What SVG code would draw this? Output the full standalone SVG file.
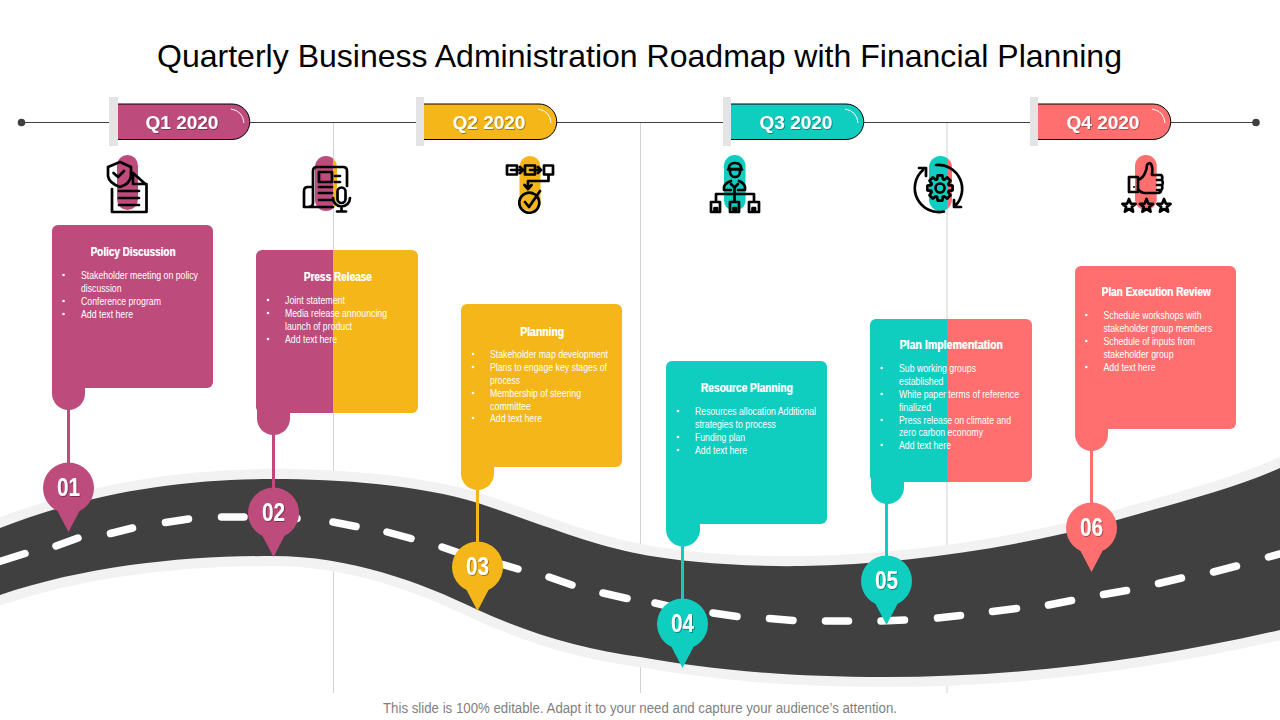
<svg xmlns="http://www.w3.org/2000/svg" xmlns:xlink="http://www.w3.org/1999/xlink" width="1280" height="720" viewBox="0 0 1280 720">
<style>
text{font-family:"Liberation Sans",Arial,sans-serif}
.pink{fill:#BD4B7C}.yel{fill:#F4B619}.teal{fill:#0FCDBF}.cor{fill:#FF6F6F}
.title{font-size:32px;fill:#000}
.foot{font-size:14px;fill:#7F7F7F}
.q{font-size:19px;font-weight:700;fill:#fff;text-anchor:middle}
.num{font-size:25px;font-weight:700;fill:#fff;text-anchor:middle}
.ct{font-size:13.300px;font-weight:700;fill:#fff;text-anchor:middle}
.cb{font-size:11.500px;fill:#fff}
.bar{fill:#E4E4E4}
.pill{stroke:none}
.pl{fill:none;stroke:#000;stroke-width:1}
.hl{fill:none;stroke:#fff;stroke-width:1}
.ic{fill:none;stroke:#000;stroke-width:2.700;stroke-linejoin:round;stroke-linecap:round}
.stem{stroke-width:3;fill:none}
.vl{stroke:#D2D2D2;stroke-width:1}
</style>
<defs>
<filter id="sh" x="-20%" y="-20%" width="140%" height="150%"><feDropShadow dx="0.8" dy="0.8" stdDeviation="0.6" flood-color="#000" flood-opacity="0.45"/></filter>
<filter id="sh2" x="-10%" y="-20%" width="120%" height="140%"><feDropShadow dx="0.5" dy="0" stdDeviation="0.2" flood-color="#fff" flood-opacity="0.7"/></filter>
<g id="pin"><ellipse cx="0" cy="0" rx="25.500" ry="25.500"/><path d="M-12 21L0 44L12 21Z"/></g>
<path id="star" d="M0-7L1.800-2.400L6.600-2.100L2.800 0.900L4.100 5.700L0 3L-4.100 5.700L-2.800 0.900L-6.600-2.100L-1.800-2.400Z"/>
<path id="tooth" d="M-2.900-8.900L-2.300-12.600H2.300L2.900-8.900L4.200-8.300"/>
<linearGradient id="g2" gradientUnits="userSpaceOnUse" x1="256" x2="418" y1="0" y2="0"><stop offset="0.4753" stop-color="#BD4B7C"/><stop offset="0.4753" stop-color="#F4B619"/></linearGradient>
<linearGradient id="g5" gradientUnits="userSpaceOnUse" x1="870" x2="1032" y1="0" y2="0"><stop offset="0.475" stop-color="#0FCDBF"/><stop offset="0.475" stop-color="#FF6F6F"/></linearGradient>
<linearGradient id="gi2" gradientUnits="userSpaceOnUse" x1="315" x2="337" y1="0" y2="0"><stop offset="0.82" stop-color="#BD4B7C"/><stop offset="0.82" stop-color="#F4B619"/></linearGradient>
<linearGradient id="gi5" gradientUnits="userSpaceOnUse" x1="929" x2="952" y1="0" y2="0"><stop offset="0.78" stop-color="#0FCDBF"/><stop offset="0.78" stop-color="#FF6F6F"/></linearGradient>
</defs>
<rect width="1280" height="720" fill="#fff"/>
<text class="title" x="157" y="67" textLength="965" lengthAdjust="spacingAndGlyphs">Quarterly Business Administration Roadmap with Financial Planning</text>
<g id="guides">
<line class="vl" x1="333.500" y1="123" x2="333.500" y2="693"/>
<line class="vl" x1="640.500" y1="123" x2="640.500" y2="693"/>
<line class="vl" x1="947" y1="123" x2="947" y2="693"/>
</g>
<g id="road">
<path d="M0 528C95 491 185 479 273 479C340 479 420 485 478 503C530 520 590 545 640 554C680 562 745 567 803 566C900 564 1010 550 1117 520C1175 503 1230 490 1280 468V630C1150 660 1020 677 885 677C780 677 700 668 640 657C585 650 530 634 478 610C420 582 350 556 273 556C185 556 90 565 0 595Z" fill="#404040" stroke="#F2F2F2" stroke-width="20" paint-order="stroke"/>
<path d="M-5 563L25 553.500M56 546L78 538M110.500 533.500L132.500 528M165.500 522.500L188.500 519M221.500 517L244 517M272 516L297 518.500M333 522L356 526.500M387 532L411 538.500M442 547L465 555M490 561L518 569M549 577L572 585M603 593L627 598.500M655 603L685 610M713 613L737 616.500M769.500 618.500L793 620.500M825.500 621L848.500 621M881 621L904.500 620M937.500 618L960.500 615.500M992.500 611.500L1016.500 608.500M1048.500 605L1071.500 600.500M1103.500 594.500L1126.500 590.500M1158.500 583.500L1181.500 578M1213.500 572L1236.500 566M1268.500 557L1290 551" fill="none" stroke="#fff" stroke-width="7.500" stroke-linecap="round"/>
</g>
<g id="timeline">
<line x1="21.500" y1="122.500" x2="1256" y2="122.500" stroke="#404040" stroke-width="1"/>
<circle cx="21.500" cy="122.500" r="3.800" fill="#404040"/>
<circle cx="1256" cy="122.500" r="3.800" fill="#404040"/>
</g>
<g id="q1"><path class="pill pink" d="M118 104H232A17.500 17.500 0 0 1 232 139.500H118Z"/><path class="pl" d="M118 104H232A17.500 17.500 0 0 1 232 139.500H118"/><rect class="bar" x="109" y="97" width="9" height="49"/><path class="hl" d="M231 109Q243 111 244 123"/><text class="q" x="182" y="129" filter="url(#sh)">Q1 2020</text></g>
<g id="q2"><path class="pill yel" d="M424 104H539A17.500 17.500 0 0 1 539 139.500H424Z"/><path class="pl" d="M424 104H539A17.500 17.500 0 0 1 539 139.500H424"/><rect class="bar" x="416" y="97" width="8" height="49"/><path class="hl" d="M538 109Q550 111 551 123"/><text class="q" x="489" y="129" filter="url(#sh)">Q2 2020</text></g>
<g id="q3"><path class="pill teal" d="M731 104H846A17.500 17.500 0 0 1 846 139.500H731Z"/><path class="pl" d="M731 104H846A17.500 17.500 0 0 1 846 139.500H731"/><rect class="bar" x="723" y="97" width="8" height="49"/><path class="hl" d="M845 109Q857 111 858 123"/><text class="q" x="796" y="129" filter="url(#sh)">Q3 2020</text></g>
<g id="q4"><path class="pill cor" d="M1038 104H1153A17.500 17.500 0 0 1 1153 139.500H1038Z"/><path class="pl" d="M1038 104H1153A17.500 17.500 0 0 1 1153 139.500H1038"/><rect class="bar" x="1030" y="97" width="8" height="49"/><path class="hl" d="M1152 109Q1164 111 1165 123"/><text class="q" x="1103" y="129" filter="url(#sh)">Q4 2020</text></g>
<g id="connectors">
<line class="stem" stroke="#BD4B7C" x1="68.500" y1="405" x2="68.500" y2="470"/>
<line class="stem" stroke="#BD4B7C" x1="273.500" y1="430" x2="273.500" y2="495"/>
<line class="stem" stroke="#F4B619" x1="477.500" y1="485" x2="477.500" y2="550"/>
<line class="stem" stroke="#0FCDBF" x1="682.500" y1="542" x2="682.500" y2="605"/>
<line class="stem" stroke="#0FCDBF" x1="886.500" y1="498" x2="886.500" y2="562"/>
<line class="stem" stroke="#FF6F6F" x1="1091.500" y1="446" x2="1091.500" y2="510"/>
</g>
<g id="node1">
<rect class="pink" x="117" y="155" width="21" height="55" rx="10.500"/>
<path class="ic" d="M120 162L108 167V176Q109 183 120 187Q130 184 131 176V167ZM113.500 173L118 177L124 171M133 173L146.500 185V212H112V189M133 173V184H146.500M119 191H139M119 198H139M119 205H139"/>
<rect class="pink" x="52" y="225" width="161" height="163" rx="6"/>
<path class="pink" d="M52 380H85V393.500A16.500 16.500 0 0 1 52 393.500Z"/>
<text class="ct" x="133" y="255.500" textLength="85" lengthAdjust="spacingAndGlyphs" filter="url(#sh2)">Policy Discussion</text>
<circle cx="63.500" cy="275" r="1.300" fill="#fff"/><text class="cb" x="81" y="279" textLength="117" lengthAdjust="spacingAndGlyphs">Stakeholder meeting on policy</text>
<text class="cb" x="81" y="292" textLength="40.500" lengthAdjust="spacingAndGlyphs">discussion</text>
<circle cx="63.500" cy="301" r="1.300" fill="#fff"/><text class="cb" x="81" y="305" textLength="80" lengthAdjust="spacingAndGlyphs">Conference program</text>
<circle cx="63.500" cy="314" r="1.300" fill="#fff"/><text class="cb" x="81" y="318" textLength="52" lengthAdjust="spacingAndGlyphs">Add text here</text>
<use xlink:href="#pin" href="#pin" x="68.500" y="488" class="pink"/>
<text class="num" x="68.500" y="496" textLength="23" lengthAdjust="spacingAndGlyphs" filter="url(#sh)">01</text>
</g>
<g id="node2">
<rect x="315" y="156" width="22" height="55" rx="11" fill="url(#gi2)"/>
<path class="ic" d="M313 187V171Q313 167 317 167H343Q347 167 347 171V186M304 207V191Q304 187 308 187H313M304 207H333M308 207Q313 207 313 203V187M319 172H332V182H319ZM335 176H340M335 182H340M319 187H332M319 193H332M319 200H332M337.500 191.500A4 4 0 0 1 345.500 191.500V199A4 4 0 0 1 337.500 199ZM333 198A8.500 8.500 0 0 0 350 198M341.500 207V211.500M337 211.500H346"/>
<rect x="256" y="250" width="162" height="163" rx="6" fill="url(#g2)"/>
<path class="pink" d="M257 400H290V418.500A16.500 16.500 0 0 1 257 418.500Z"/>
<text class="ct" x="337.700" y="280.500" textLength="68" lengthAdjust="spacingAndGlyphs" filter="url(#sh2)">Press Release</text>
<circle cx="268" cy="300" r="1.300" fill="#fff"/><text class="cb" x="285" y="304" textLength="60" lengthAdjust="spacingAndGlyphs">Joint statement</text>
<circle cx="268" cy="313" r="1.300" fill="#fff"/><text class="cb" x="285" y="317" textLength="102" lengthAdjust="spacingAndGlyphs">Media release announcing</text>
<text class="cb" x="285" y="330" textLength="67" lengthAdjust="spacingAndGlyphs">launch of product</text>
<circle cx="268" cy="339" r="1.300" fill="#fff"/><text class="cb" x="285" y="343" textLength="52" lengthAdjust="spacingAndGlyphs">Add text here</text>
<use xlink:href="#pin" href="#pin" x="273.500" y="513" class="pink"/>
<text class="num" x="273.500" y="521" textLength="23" lengthAdjust="spacingAndGlyphs" filter="url(#sh)">02</text>
</g>
<g id="node3">
<rect class="yel" x="519.500" y="156" width="21" height="55" rx="10.500"/>
<path class="ic" d="M507 165.500H517V174.500H507ZM525 165.500H535V174.500H525ZM544 165.500H553V174.500H544ZM511 170H523M520 167L523 170L520 173M530 170H541M538 167L541 170L538 173M548.500 175V181H528V188M524.500 185L528 189L531.500 185M535 194.500A10 10 0 1 0 537.500 197M525 202L529 207L540 191"/>
<rect class="yel" x="461" y="304" width="161" height="163" rx="6"/>
<path class="yel" d="M461 459H494V473.500A16.500 16.500 0 0 1 461 473.500Z"/>
<text class="ct" x="542" y="335.500" textLength="44" lengthAdjust="spacingAndGlyphs" filter="url(#sh2)">Planning</text>
<circle cx="473" cy="354" r="1.300" fill="#fff"/><text class="cb" x="490" y="358" textLength="118" lengthAdjust="spacingAndGlyphs">Stakeholder map development</text>
<circle cx="473" cy="367" r="1.300" fill="#fff"/><text class="cb" x="490" y="371" textLength="117" lengthAdjust="spacingAndGlyphs">Plans to engage key stages of</text>
<text class="cb" x="490" y="384" textLength="30" lengthAdjust="spacingAndGlyphs">process</text>
<circle cx="473" cy="393" r="1.300" fill="#fff"/><text class="cb" x="490" y="397" textLength="91" lengthAdjust="spacingAndGlyphs">Membership of steering</text>
<text class="cb" x="490" y="410" textLength="41" lengthAdjust="spacingAndGlyphs">committee</text>
<circle cx="473" cy="418" r="1.300" fill="#fff"/><text class="cb" x="490" y="422" textLength="52" lengthAdjust="spacingAndGlyphs">Add text here</text>
<use xlink:href="#pin" href="#pin" x="477.500" y="567" class="yel"/>
<text class="num" x="477.500" y="575" textLength="23" lengthAdjust="spacingAndGlyphs" filter="url(#sh)">03</text>
</g>
<g id="node4">
<rect class="teal" x="724" y="155" width="21.500" height="56" rx="10.700"/>
<path class="ic" d="M729 169V167Q730 163 735 163Q740 163 741 167V169ZM728 169.500H742M730 170V172A5 5 0 0 0 740 172V170M724 190V187Q725 183 731 181M745 190V187Q744 183 739 181M724 190H731M738 190H745M731 184L734.500 187.500L738 184M734.500 187.500V202M716 202V194H754V202M711 202H720V212H711ZM730 202H739V212H730ZM749 202H759V212H749ZM714.500 212V208H717V212M733.500 212V208H736V212M752.500 212V208H755V212"/>
<rect class="teal" x="666" y="361" width="161" height="163" rx="6"/>
<path class="teal" d="M666 516H700V529.500A17 17 0 0 1 666 529.500Z"/>
<text class="ct" x="747" y="392" textLength="92" lengthAdjust="spacingAndGlyphs" filter="url(#sh2)">Resource Planning</text>
<circle cx="678" cy="411" r="1.300" fill="#fff"/><text class="cb" x="695" y="415" textLength="121" lengthAdjust="spacingAndGlyphs">Resources allocation Additional</text>
<text class="cb" x="695" y="428" textLength="81" lengthAdjust="spacingAndGlyphs">strategies to process</text>
<circle cx="678" cy="437" r="1.300" fill="#fff"/><text class="cb" x="695" y="441" textLength="50" lengthAdjust="spacingAndGlyphs">Funding plan</text>
<circle cx="678" cy="450" r="1.300" fill="#fff"/><text class="cb" x="695" y="454" textLength="52" lengthAdjust="spacingAndGlyphs">Add text here</text>
<use xlink:href="#pin" href="#pin" x="682.500" y="624" class="teal"/>
<text class="num" x="682.500" y="632" textLength="23" lengthAdjust="spacingAndGlyphs" filter="url(#sh)">04</text>
</g>
<g id="node5">
<rect x="929" y="156" width="23" height="55" rx="11.500" fill="url(#gi5)"/>
<path class="ic" d="M936 165A24 24 0 0 1 955 206M954 200V207H961M944 211.500A24 24 0 0 1 923 170M919 168H926V176"/>
<g class="ic" transform="translate(940 188)"><circle r="4.500"/><use xlink:href="#tooth" href="#tooth"/><use xlink:href="#tooth" href="#tooth" transform="rotate(45)"/><use xlink:href="#tooth" href="#tooth" transform="rotate(90)"/><use xlink:href="#tooth" href="#tooth" transform="rotate(135)"/><use xlink:href="#tooth" href="#tooth" transform="rotate(180)"/><use xlink:href="#tooth" href="#tooth" transform="rotate(225)"/><use xlink:href="#tooth" href="#tooth" transform="rotate(270)"/><use xlink:href="#tooth" href="#tooth" transform="rotate(315)"/></g>
<rect x="870" y="319" width="162" height="163" rx="6" fill="url(#g5)"/>
<path class="teal" d="M871 470H904V487.500A16.500 16.500 0 0 1 871 487.500Z"/>
<text class="ct" x="951.300" y="349" textLength="103" lengthAdjust="spacingAndGlyphs" filter="url(#sh2)">Plan Implementation</text>
<circle cx="881.700" cy="368" r="1.300" fill="#fff"/><text class="cb" x="899" y="372" textLength="77" lengthAdjust="spacingAndGlyphs">Sub working groups</text>
<text class="cb" x="899" y="385" textLength="44.500" lengthAdjust="spacingAndGlyphs">established</text>
<circle cx="881.700" cy="394" r="1.300" fill="#fff"/><text class="cb" x="899" y="398" textLength="120" lengthAdjust="spacingAndGlyphs">White paper terms of reference</text>
<text class="cb" x="899" y="411" textLength="32" lengthAdjust="spacingAndGlyphs">finalized</text>
<circle cx="881.700" cy="420" r="1.300" fill="#fff"/><text class="cb" x="899" y="424" textLength="112" lengthAdjust="spacingAndGlyphs">Press release on climate and</text>
<text class="cb" x="899" y="436" textLength="84" lengthAdjust="spacingAndGlyphs">zero carbon economy</text>
<circle cx="881.700" cy="445" r="1.300" fill="#fff"/><text class="cb" x="899" y="449" textLength="52" lengthAdjust="spacingAndGlyphs">Add text here</text>
<use xlink:href="#pin" href="#pin" x="886.500" y="581" class="teal"/>
<text class="num" x="886.500" y="589" textLength="23" lengthAdjust="spacingAndGlyphs" filter="url(#sh)">05</text>
</g>
<g id="node6">
<rect class="cor" x="1135" y="155" width="21.700" height="55" rx="10.800"/>
<path class="ic" d="M1129 177H1138V192H1129ZM1138 180Q1143 178 1145 173Q1147 169 1147 165Q1149 162 1151 164Q1153 167 1152 175H1161Q1163 176 1162 180Q1163.500 183 1162 185Q1163 189 1161 190Q1161 193 1158 193H1145Q1141 193 1138 189M1157 180H1162M1157 185H1162M1157 190H1161"/>
<circle cx="1134" cy="187" r="1" fill="#000"/>
<g class="ic"><use xlink:href="#star" href="#star" x="1129" y="206"/><use xlink:href="#star" href="#star" x="1146.500" y="206"/><use xlink:href="#star" href="#star" x="1164" y="206"/></g>
<rect class="cor" x="1075" y="266" width="161" height="163" rx="6"/>
<path class="cor" d="M1075 420H1108V434.500A16.500 16.500 0 0 1 1075 434.500Z"/>
<text class="ct" x="1156" y="296" textLength="109" lengthAdjust="spacingAndGlyphs" filter="url(#sh2)">Plan Execution Review</text>
<circle cx="1086.300" cy="315" r="1.300" fill="#fff"/><text class="cb" x="1103.500" y="319" textLength="98" lengthAdjust="spacingAndGlyphs">Schedule workshops with</text>
<text class="cb" x="1103.500" y="332" textLength="108.500" lengthAdjust="spacingAndGlyphs">stakeholder group members</text>
<circle cx="1086.300" cy="341" r="1.300" fill="#fff"/><text class="cb" x="1103.500" y="345" textLength="91.500" lengthAdjust="spacingAndGlyphs">Schedule of inputs from</text>
<text class="cb" x="1103.500" y="358" textLength="70" lengthAdjust="spacingAndGlyphs">stakeholder group</text>
<circle cx="1086.300" cy="367" r="1.300" fill="#fff"/><text class="cb" x="1103.500" y="371" textLength="52" lengthAdjust="spacingAndGlyphs">Add text here</text>
<use xlink:href="#pin" href="#pin" x="1091.500" y="528" class="cor"/>
<text class="num" x="1091.500" y="536" textLength="23" lengthAdjust="spacingAndGlyphs" filter="url(#sh)">06</text>
</g>
<text class="foot" x="383" y="713" textLength="514" lengthAdjust="spacingAndGlyphs">This slide is 100% editable. Adapt it to your need and capture your audience’s attention.</text>
</svg>
